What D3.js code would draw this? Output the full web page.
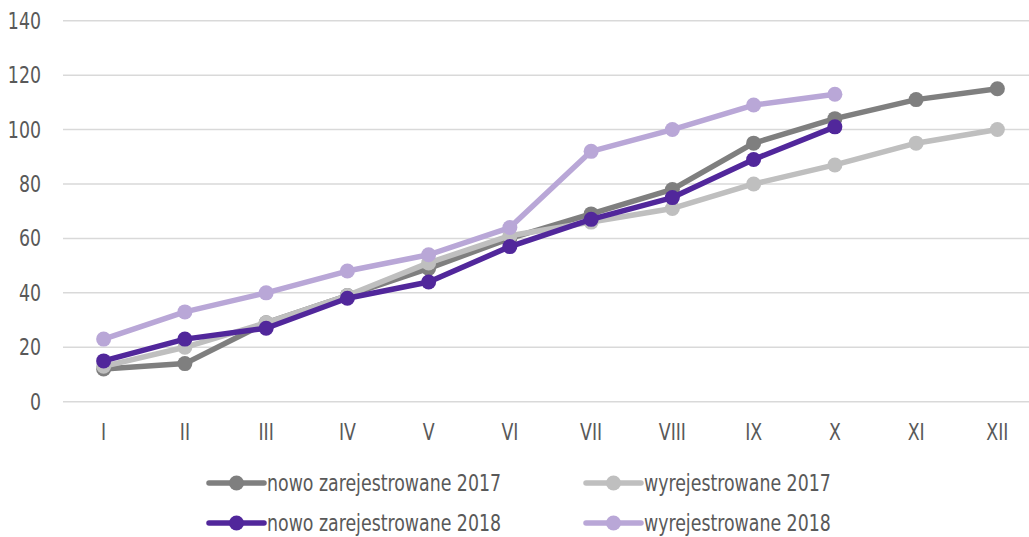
<!DOCTYPE html>
<html>
<head>
<meta charset="utf-8">
<script src="https://cdn.jsdelivr.net/npm/d3@7"></script>
<style>
  html, body { margin: 0; padding: 0; background: #fff; }
  svg text { font-family: "Liberation Sans Narrow", "DejaVu Sans Condensed", "Roboto Condensed", sans-serif; font-stretch: condensed; fill: #595959; }
</style>
</head>
<body>
<div id="chart"></div>
<script>
// data
const months = ["I", "II", "III", "IV", "V", "VI", "VII", "VIII", "IX", "X", "XI", "XII"];
const yTicks = [0, 20, 40, 60, 80, 100, 120, 140];

const nowo2017 = [12, 14, 29, 39, 49, 60, 69, 78, 95, 104, 111, 115];
const wyrej2017 = [13, 20, 29, 39, 51, 61, 66, 71, 80, 87, 95, 100];
const nowo2018 = [15, 23, 27, 38, 44, 57, 67, 75, 89, 101];
const wyrej2018 = [23, 33, 40, 48, 54, 64, 92, 100, 109, 113];

const series = [
    { name: "nowo zarejestrowane 2017", values: nowo2017, color: "#7f7f7f" },
    { name: "wyrejestrowane 2017", values: wyrej2017, color: "#bfbfbf" },
    { name: "wyrejestrowane 2018", values: wyrej2018, color: "#b9a7d7" },
    { name: "nowo zarejestrowane 2018", values: nowo2018, color: "#51279b" }
];

const width = 1029, height = 537;
const plotLeft = 63, plotRight = 1038, plotTop = 20.7, plotBottom = 401.7;
const squeeze = 0.84; // the original font is narrower than DejaVu Condensed

const svg = d3.select("#chart").append("svg")
    .attr("width", width)
    .attr("height", height);

const x = d3.scaleBand()
    .domain(months)
    .range([plotLeft, plotRight]);

const y = d3.scaleLinear()
    .domain([0, 140])
    .range([plotBottom, plotTop]);

const cx = d => x(d) + x.bandwidth() / 2;

// gridlines
svg.append("g")
    .selectAll("line")
    .data(yTicks)
    .enter()
    .append("line")
    .attr("x1", plotLeft)
    .attr("x2", width)
    .attr("y1", d => y(d))
    .attr("y2", d => y(d))
    .attr("stroke", "#d9d9d9")
    .attr("stroke-width", 1.5);

// y labels
svg.append("g")
    .selectAll("text")
    .data(yTicks)
    .enter()
    .append("text")
    .attr("transform", d => `translate(41,${y(d)}) scale(${squeeze},1)`)
    .attr("dy", "0.35em")
    .attr("text-anchor", "end")
    .attr("font-size", "23px")
    .text(d => d);

// x labels
svg.append("g")
    .selectAll("text")
    .data(months)
    .enter()
    .append("text")
    .attr("transform", d => `translate(${cx(d)},432) scale(${squeeze},1)`)
    .attr("dy", "0.35em")
    .attr("text-anchor", "middle")
    .attr("font-size", "23px")
    .text(d => d);

// lines and dots
const line = d3.line()
    .x((d, i) => cx(months[i]))
    .y(d => y(d));

series.forEach(s => {
    const g = svg.append("g");
    g.append("path")
        .datum(s.values)
        .attr("d", line)
        .attr("fill", "none")
        .attr("stroke", s.color)
        .attr("stroke-width", 5.5)
        .attr("stroke-linejoin", "round");
    g.selectAll("circle")
        .data(s.values)
        .enter()
        .append("circle")
        .attr("cx", (d, i) => cx(months[i]))
        .attr("cy", d => y(d))
        .attr("r", 7.5)
        .attr("fill", s.color);
});

// legend
const legendItems = [
    { s: series[0], x: 209, y: 483 },
    { s: series[1], x: 586, y: 483 },
    { s: series[3], x: 209, y: 523 },
    { s: series[2], x: 586, y: 523 }
];

const legend = svg.append("g")
    .selectAll("g")
    .data(legendItems)
    .enter()
    .append("g")
    .attr("transform", d => `translate(${d.x},${d.y})`);

legend.append("line")
    .attr("x1", 0)
    .attr("x2", 55)
    .attr("stroke", d => d.s.color)
    .attr("stroke-width", 5.5)
    .attr("stroke-linecap", "round");

legend.append("circle")
    .attr("cx", 27.5)
    .attr("r", 7.5)
    .attr("fill", d => d.s.color);

legend.append("text")
    .attr("transform", `translate(58,0) scale(${squeeze},1)`)
    .attr("dy", "0.35em")
    .attr("font-size", "23px")
    .text(d => d.s.name);
</script>
</body>
</html>
